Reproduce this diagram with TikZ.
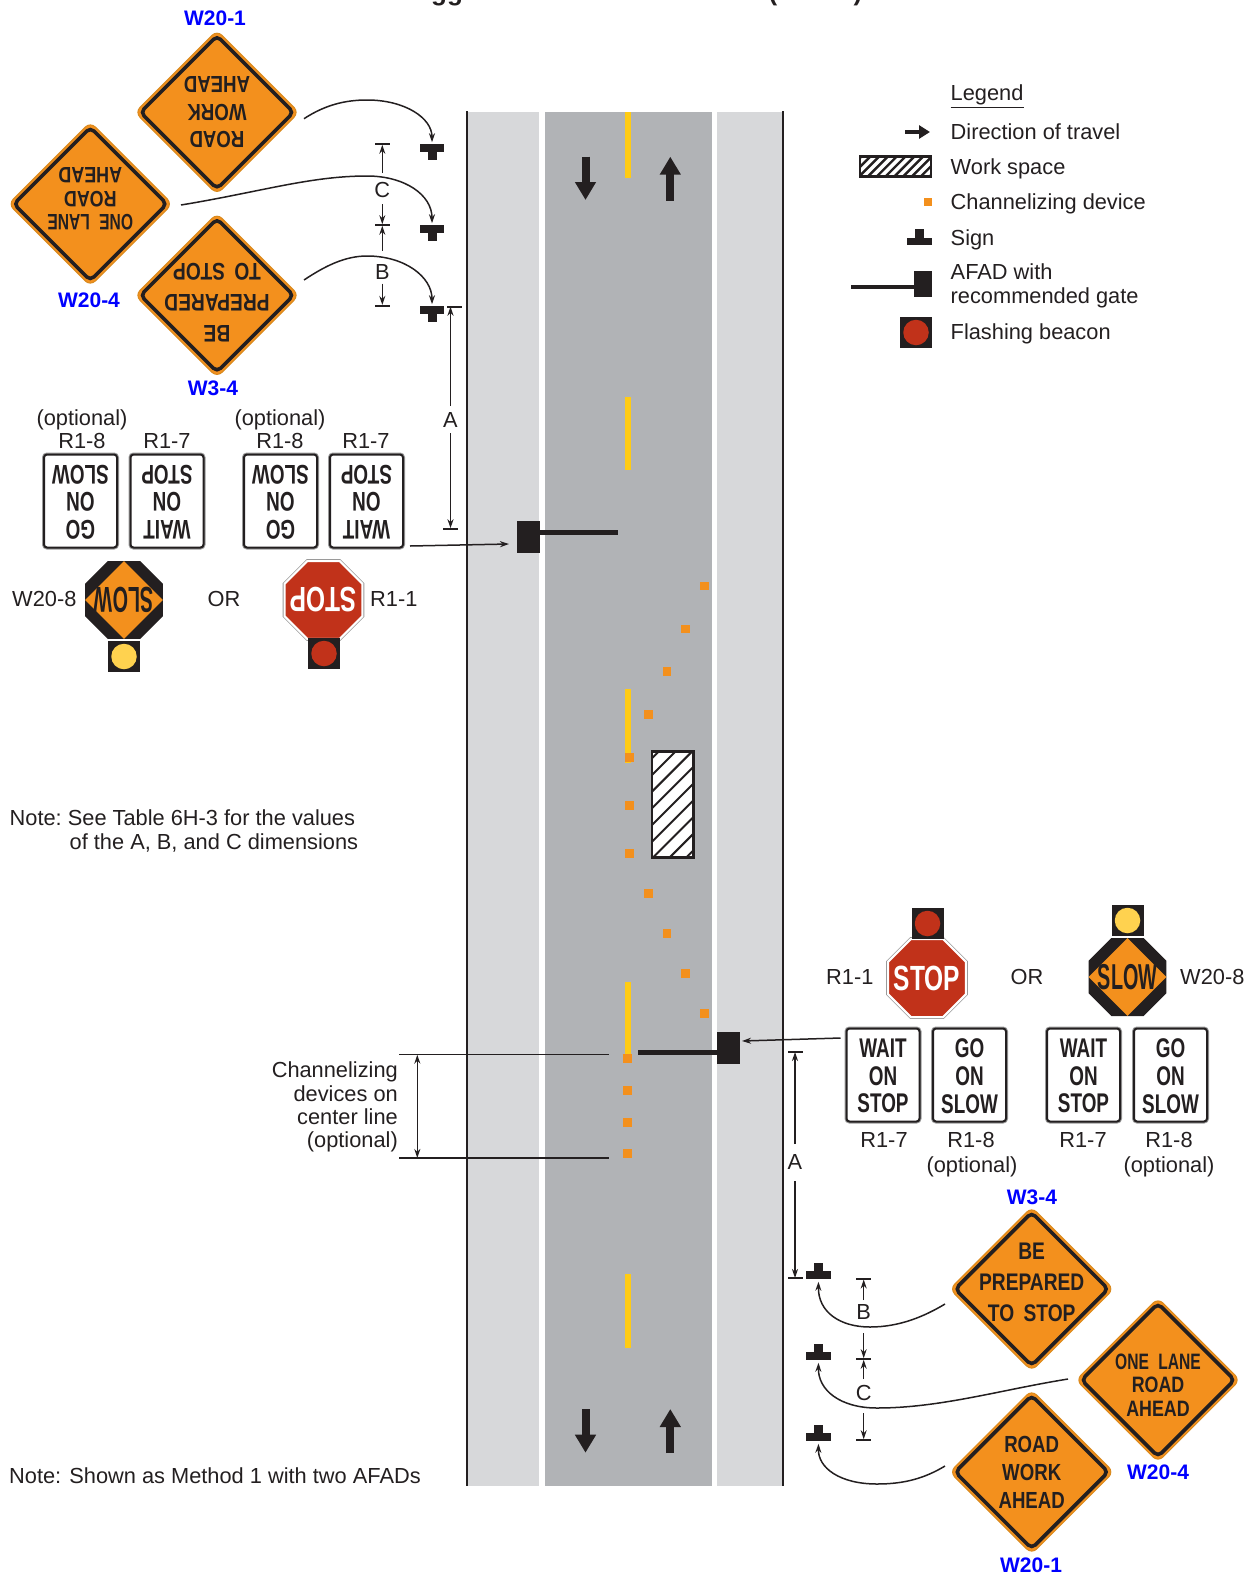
\documentclass[tikz,border=0pt]{standalone}
\usepackage{fontspec}
\setmainfont{Liberation Sans}
\newfontfamily\signfont[FakeStretch=0.8]{Liberation Sans}
\newfontfamily\tallfont[FakeStretch=0.7]{Liberation Sans}
\newfontfamily\slowfont[FakeStretch=0.55]{Liberation Sans}
\usetikzlibrary{arrows.meta,shapes.geometric,positioning}
\definecolor{inkblack}{HTML}{231F20}
\definecolor{signorange}{HTML}{F3901D}
\definecolor{signedge}{HTML}{D98A1E}
\definecolor{stopred}{HTML}{C1321A}
\definecolor{lampyellow}{HTML}{FFD24F}
\definecolor{laneyellow}{HTML}{FFCB14}
\definecolor{roaddark}{HTML}{B1B3B6}
\definecolor{roadlight}{HTML}{D7D8DA}
\definecolor{boxedge}{HTML}{9A9A9A}
\tikzset{
    lbl/.style={font=\fontsize{21.8}{24}\selectfont, text=inkblack, inner sep=0pt, text height=15.6pt, text depth=0pt},
    code/.style={font=\fontsize{21}{24}\selectfont\bfseries, text=blue, inner sep=0pt, text height=15.2pt, text depth=0pt},
    warnedge/.style={diamond, minimum size=164pt, inner sep=0pt, outer sep=0pt, fill=signorange, draw=signedge, line width=1pt, rounded corners=7pt},
    warnline/.style={diamond, minimum size=153pt, inner sep=0pt, outer sep=0pt, draw=inkblack, line width=3.6pt, rounded corners=5pt},
    warntext/.style={inner sep=0pt, align=center, text=inkblack},
    regbox/.style={minimum width=73pt, minimum height=93pt, inner sep=0pt, outer sep=0pt, fill=white, draw=inkblack, line width=2pt, rounded corners=3pt, preaction={draw=boxedge, line width=4pt}},
    regtext/.style={inner sep=0pt, align=center, text=inkblack, font=\tallfont\bfseries\fontsize{27}{27.7}\selectfont},
    octa/.style={regular polygon, regular polygon sides=8, minimum size=84.4pt, inner sep=0pt, outer sep=0pt},
    beaconbox/.style={minimum width=32pt, minimum height=31pt, inner sep=0pt, outer sep=0pt, fill=inkblack},
    beaconlamp/.style={circle, minimum size=25.5pt, inner sep=0pt},
    signbar/.style={minimum width=24.5pt, minimum height=7.5pt, inner sep=0pt, outer sep=0pt, fill=inkblack},
    signstem/.style={minimum width=9pt, minimum height=8.5pt, inner sep=0pt, outer sep=0pt, fill=inkblack},
    gatebox/.style={minimum width=23pt, minimum height=32pt, inner sep=0pt, outer sep=0pt, fill=inkblack},
    gatearm/.style={line width=5pt, draw=inkblack},
    device/.style={minimum size=8.8pt, inner sep=0pt, fill=signorange},
    tick/.style={minimum width=15pt, minimum height=1.6pt, inner sep=0pt, outer sep=0pt, fill=inkblack},
    leader/.style={draw=inkblack, line width=1.5pt, -{Stealth[length=9pt,width=6pt]}},
    flow/.style={draw=inkblack, line width=8pt, -{Triangle[length=18pt,width=20pt]}},
    hatch/.style 2 args={draw=inkblack, line width=2.4pt, fill=white, inner sep=0pt, path picture={
        \foreach \k in {-12,...,12}
            \draw[draw=inkblack, line width=#2, shift={(path picture bounding box.center)}] ({\k*#1-150},150) -- ({\k*#1+150},-150);
    }},
}
% diamond warning sign: name, x, y, angle, text shift, size, skip, lines
\newcommand{\warnsign}[8]{
    \node[warnedge] (#1) at (#2,#3) {};
    \node[warnline] (#1-line) at (#1) {};
    \node[warntext, rotate=#4, font=\signfont\bfseries\fontsize{#6}{#7}\selectfont] (#1-text) at ([yshift=#5]#1.center) {#8};
}
\newcommand{\regsign}[5]{
    \node[regbox] (#1) at (#2,#3) {};
    \node[regtext, rotate=#4] (#1-text) at ([yshift=-1pt]#1.center) {#5};
}
\newcommand{\lamp}[4]{
    \node[beaconbox] (#1) at (#2,#3) {};
    \node[beaconlamp, fill=#4] (#1-lamp) at (#1) {};
}
\newcommand{\stoppaddle}[4]{
    \node[octa, fill=stopred, draw=white, line width=2pt, preaction={draw=boxedge, line width=3.6pt}] (#1) at (#2,#3) {};
    \node[rotate=#4, inner sep=0pt, text=white, font=\tallfont\bfseries\fontsize{35}{35}\selectfont] (#1-text) at (#1) {STOP};
}
\newcommand{\slowpaddle}[4]{
    \node[octa, fill=inkblack] (#1) at (#2,#3) {};
    \node[diamond, minimum size=78pt, inner sep=0pt, fill=signorange] (#1-face) at (#1) {};
    \node[rotate=#4, inner sep=0pt, text=inkblack, font=\slowfont\bfseries\fontsize{36}{36}\selectfont] (#1-text) at (#1) {SLOW};
}

\begin{document}
\begin{tikzpicture}[x=1pt,y=-1pt]
    \useasboundingbox (0,0) rectangle (1255,1577);

    % what is left of the heading
    \node[anchor=base, inner sep=0pt, text=inkblack, font=\fontsize{26}{28}\selectfont\bfseries] (headG) at (447,0) {gg};
    \node[anchor=base, inner sep=0pt, text=inkblack, font=\fontsize{26}{28}\selectfont\bfseries] (headL) at (773,0) {(};
    \node[anchor=base, inner sep=0pt, text=inkblack, font=\fontsize{26}{28}\selectfont\bfseries] (headR) at (858,0) {)};

    % road
    \fill[roadlight] (467,111.7) rectangle (539,1486);
    \fill[roaddark] (545,111.7) rectangle (711.7,1486);
    \fill[roadlight] (716.5,111.7) rectangle (782,1486);
    \draw[inkblack, line width=2.6pt] (466.8,111) -- (466.8,1486);
    \draw[inkblack, line width=2.6pt] (783,111) -- (783,1486);
    \fill[laneyellow] (625.3,111.7) rectangle (631,177.7);
    \foreach \y in {396.6,689,981.7,1274}
        \fill[laneyellow] (625.3,\y) rectangle (631,\y+73.7);
    \foreach \ax/\ay/\by in {585.5/156.7/200,670.3/200.7/156.7,585.5/1409/1452.7,670.3/1453/1409}
        \draw[flow] (\ax,\ay) -- (\ax,\by);

    % channelizing devices
    \foreach \dx/\dy [count=\i] in {704.3/586,685.7/629,667/671.7,648.3/714.3,629.5/757.3,629.5/805.3,629.5/853.7,648.3/893.7,667/933.7,685.7/973.7,704.3/1013.3,627.7/1058.7,627.7/1090.7,627.7/1122.3,627.7/1153.7}
        \node[device] (dev\i) at (\dx,\dy) {};

    \node[hatch={16.7}{2pt}, minimum width=41.5pt, minimum height=106pt] (workSpace) at (672.7,804.3) {};

    % gates
    \node[gatebox] (gateTop) at (528.5,537) {};
    \coordinate (gateTopEnd) at (618,532.7);
    \draw[gatearm] (gateTop.east |- gateTopEnd) -- (gateTopEnd);
    \node[gatebox] (gateBot) at (728,1048) {};
    \coordinate (gateBotEnd) at (638,1052);
    \draw[gatearm] (gateBot.west |- gateBotEnd) -- (gateBotEnd);

    % warning signs, far side
    \warnsign{warnAa}{217}{112.3}{180}{0}{23.3}{27.8}{ROAD\\WORK\\AHEAD}
    \warnsign{warnAb}{90.3}{204}{180}{5}{22.3}{23.5}{\tallfont\bfseries ONE\hspace{5pt} LANE\\ROAD\\AHEAD}
    \warnsign{warnAc}{217}{295.3}{180}{-7}{24}{31}{BE\\PREPARED\\TO\hspace{4pt} STOP}
    \node[code] (codeAa) at (215,18) {W20-1};
    \node[code] (codeAb) at (89,300) {W20-4};
    \node[code] (codeAc) at (213,388) {W3-4};

    % warning signs, near side
    \warnsign{warnBa}{1031.7}{1289}{0}{7}{24}{31}{BE\\PREPARED\\TO\hspace{4pt} STOP}
    \warnsign{warnBb}{1158}{1380}{0}{-5}{22.3}{23.5}{\tallfont\bfseries ONE\hspace{5pt} LANE\\ROAD\\AHEAD}
    \warnsign{warnBc}{1031.7}{1472}{0}{0}{23.3}{28}{ROAD\\WORK\\AHEAD}
    \node[code] (codeBa) at (1032,1197) {W3-4};
    \node[code] (codeBb) at (1158,1472) {W20-4};
    \node[code] (codeBc) at (1031,1565) {W20-1};

    % sign symbols on the roadside
    \foreach \n/\y in {markAa/148,markAb/229,markAc/310} {
        \node[signbar] (\n) at (432,\y) {};
        \node[signstem, below=0pt of \n] (\n-post) {};
    }
    \foreach \n/\y in {markBa/1275,markBb/1356,markBc/1437} {
        \node[signbar] (\n) at (818.5,\y) {};
        \node[signstem, above=0pt of \n] (\n-post) {};
    }

    % curved leaders
    \coordinate (fromAa) at (304,118.7);
    \coordinate (fromAb) at (181,205);
    \coordinate (fromAc) at (304,280);
    \draw[leader] (fromAa) .. controls (325,105) and (345,100) .. (367,100) .. controls (405,100) and (432,118) .. ([yshift=2pt]markAa.north);
    \draw[leader] (fromAb) .. controls (260,192) and (310,176) .. (367,176) .. controls (405,176) and (432,195) .. ([yshift=2pt]markAb.north);
    \draw[leader] (fromAc) .. controls (325,266) and (345,256) .. (367,256) .. controls (405,256) and (432,277) .. ([yshift=2pt]markAc.north);
    \coordinate (fromBa) at (945,1304);
    \coordinate (fromBb) at (1068,1379);
    \coordinate (fromBc) at (945,1466);
    \draw[leader] (fromBa) .. controls (925,1316) and (900,1327) .. (870,1327) .. controls (840,1327) and (818,1312) .. ([yshift=-3pt]markBa.south);
    \draw[leader] (fromBb) .. controls (1000,1390) and (940,1408) .. (877,1408) .. controls (840,1408) and (818,1390) .. ([yshift=-3pt]markBb.south);
    \draw[leader] (fromBc) .. controls (925,1478) and (905,1484) .. (877,1484) .. controls (840,1484) and (818,1468) .. ([yshift=-3pt]markBc.south);

    % dimensions, far side
    \node[tick] (tickCa) at (382.3,144) {};
    \node[tick] (tickCb) at (382.3,225) {};
    \node[tick] (tickCc) at (382.3,305.7) {};
    \node[lbl] (dimC) at (382.3,190) {C};
    \node[lbl] (dimB) at (382.3,271.7) {B};
    \draw[leader] ([yshift=17pt]dimC.center) -- (tickCa);
    \draw[leader] ([yshift=-14pt]dimC.center) -- (tickCb);
    \draw[leader] ([yshift=21pt]dimB.center) -- (tickCb);
    \draw[leader] ([yshift=-12pt]dimB.center) -- (tickCc);
    \node[tick] (tickAa) at (454,306.7) {};
    \node[tick] (tickAb) at (450.5,529) {};
    \node[lbl] (dimA) at (450.5,420) {A};
    \draw[leader] ([yshift=14pt]dimA.center) -- (dimA |- tickAa);
    \draw[leader] ([yshift=-13pt]dimA.center) -- (tickAb);

    % dimensions, near side
    \node[tick] (tickDa) at (863.7,1278.7) {};
    \node[tick] (tickDb) at (863.7,1359) {};
    \node[tick] (tickDc) at (863.7,1440) {};
    \node[lbl] (dimBb) at (863.7,1312) {B};
    \node[lbl] (dimCb) at (863.7,1393) {C};
    \draw[leader] ([yshift=12pt]dimBb.center) -- (tickDa);
    \draw[leader] ([yshift=-21pt]dimBb.center) -- (tickDb);
    \draw[leader] ([yshift=14pt]dimCb.center) -- (tickDb);
    \draw[leader] ([yshift=-20pt]dimCb.center) -- (tickDc);
    \node[tick] (tickEa) at (795.5,1052) {};
    \node[tick] (tickEb) at (795,1278) {};
    \node[lbl] (dimAb) at (795,1162) {A};
    \draw[leader] ([yshift=18pt]dimAb.center) -- (dimAb |- tickEa);
    \draw[leader] ([yshift=-19pt]dimAb.center) -- (dimAb |- tickEb);

    % far side AFAD signs
    \regsign{regAa}{80.5}{501}{180}{GO\\ON\\SLOW}
    \regsign{regAb}{167}{501}{180}{WAIT\\ON\\STOP}
    \regsign{regAc}{280.5}{501}{180}{GO\\ON\\SLOW}
    \regsign{regAd}{366.5}{501}{180}{WAIT\\ON\\STOP}
    \foreach \n/\x/\t in {optAa/82/(optional),optAc/280/(optional)}
        \node[lbl] (\n) at (\x,418) {\t};
    \foreach \n/\x/\t in {capAa/82/R1-8,capAb/167/R1-7,capAc/280/R1-8,capAd/366/R1-7}
        \node[lbl] (\n) at (\x,441) {\t};
    \slowpaddle{padAa}{124}{600}{180}
    \lamp{lampAa}{124}{656.5}{lampyellow}
    \stoppaddle{padAb}{323.5}{600}{180}
    \lamp{lampAb}{324}{653.5}{stopred}
    \node[lbl, anchor=west] (capAe) at (12,599) {W20-8};
    \node[lbl] (orA) at (224,599) {OR};
    \node[lbl, anchor=west] (capAf) at (370,599) {R1-1};
    \draw[leader] ([xshift=7pt,yshift=-45pt]regAd.east) -- ([xshift=-8pt,yshift=-7pt]gateTop.west);

    % near side AFAD signs
    \regsign{regBa}{883}{1075}{0}{WAIT\\ON\\STOP}
    \regsign{regBb}{969.5}{1075}{0}{GO\\ON\\SLOW}
    \regsign{regBc}{1083.5}{1075}{0}{WAIT\\ON\\STOP}
    \regsign{regBd}{1170.5}{1075}{0}{GO\\ON\\SLOW}
    \foreach \n/\x/\t in {capBa/884/R1-7,capBb/971/R1-8,capBc/1083/R1-7,capBd/1169/R1-8}
        \node[lbl] (\n) at (\x,1140) {\t};
    \foreach \n/\x/\t in {optBb/972/(optional),optBd/1169/(optional)}
        \node[lbl] (\n) at (\x,1165) {\t};
    \stoppaddle{padBa}{927}{978}{0}
    \lamp{lampBa}{927.5}{923.5}{stopred}
    \slowpaddle{padBb}{1127.5}{977}{0}
    \lamp{lampBb}{1127.5}{920.5}{lampyellow}
    \node[lbl, anchor=west] (capBe) at (826,977) {R1-1};
    \node[lbl] (orB) at (1027,977) {OR};
    \node[lbl, anchor=west] (capBf) at (1180,977) {W20-8};
    \draw[leader] ([xshift=-6pt,yshift=37pt]regBa.west) -- ([xshift=2.5pt,yshift=7pt]gateBot.east);

    % optional devices on the center line
    \coordinate (chanTopL) at (399,1054.7);
    \coordinate (chanTopR) at (609.3,1054.7);
    \coordinate (chanBotL) at (399,1158);
    \coordinate (chanBotR) at (609.3,1158);
    \coordinate (chanMid) at (417.3,1100);
    \draw[inkblack, line width=1.5pt] (chanTopL) -- (chanTopR);
    \draw[inkblack, line width=1.5pt] (chanBotL) -- (chanBotR);
    \draw[draw=inkblack, line width=1.5pt, {Stealth[length=9pt,width=6pt]}-{Stealth[length=9pt,width=6pt]}] (chanMid |- chanTopL) -- (chanMid |- chanBotL);
    \foreach \t/\y [count=\i] in {Channelizing/1070,devices on/1093.5,center line/1116.8,(optional)/1140}
        \node[lbl, anchor=east] (chan\i) at (398,\y) {\t};

    % notes
    \node[lbl, anchor=west] (noteA) at (9.5,818) {Note:\ See Table 6H-3 for the values};
    \node[lbl, anchor=west] (noteB) at (69.5,841.7) {of the A, B, and C dimensions};
    \node[lbl, anchor=west] (noteC) at (9,1475.5) {Note: Shown as Method 1 with two AFADs};

    % legend
    \node[lbl, anchor=west] (legHead) at (950.5,93) {Legend};
    \draw[inkblack, line width=1.5pt] (legHead.west |- 0,107.7) -- (legHead.east |- 0,107.7);
    \foreach \n/\y/\t in {legFlow/132/Direction of travel,legWork/167/Work space,legDev/202/Channelizing device,legSign/238/Sign,legAfad/272/AFAD with,legGate/296/recommended gate,legLamp/332/Flashing beacon}
        \node[lbl, anchor=west] (\n) at (950.5,\y) {\t};
    \coordinate (flowA) at (905,132);
    \coordinate (flowB) at (930,132);
    \draw[draw=inkblack, line width=4pt, -{Triangle[length=11pt,width=13pt]}] (flowA) -- (flowB);
    \node[hatch={8.8}{2.4pt}, minimum width=71pt, minimum height=20pt] (symWork) at (895.5,166.5) {};
    \node[device] (symDev) at (928,202) {};
    \node[signbar] (symSign) at (919.7,241.5) {};
    \node[signstem, above=0pt of symSign] (symSign-post) {};
    \node[gatebox, minimum width=18pt, minimum height=26pt] (symGate) at (923,284) {};
    \coordinate (symGateEnd) at (851,287);
    \draw[line width=4.5pt, draw=inkblack] (symGate.west |- symGateEnd) -- (symGateEnd);
    \lamp{symLamp}{916}{332.5}{stopred}
\end{tikzpicture}
\end{document}
